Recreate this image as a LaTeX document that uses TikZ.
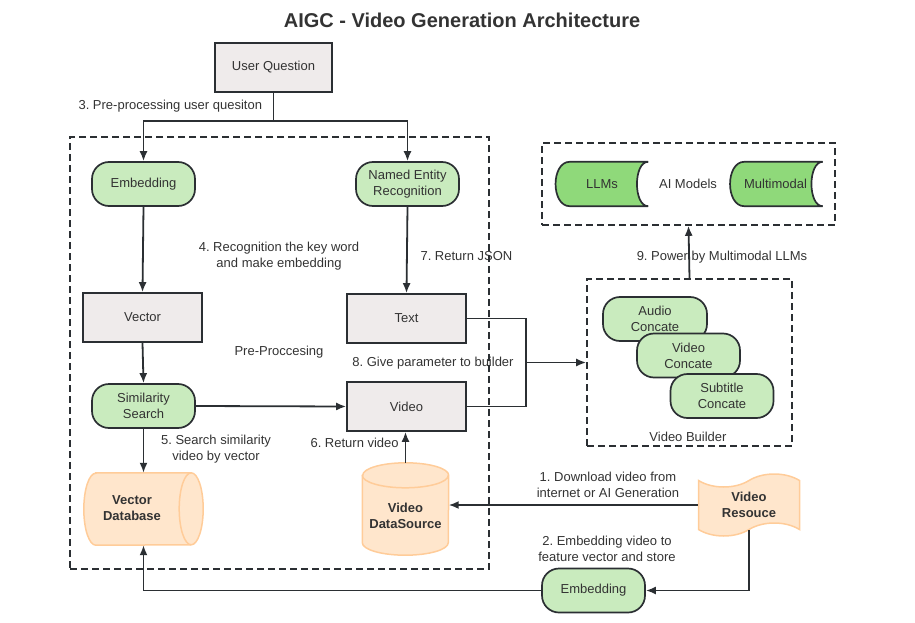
\documentclass[tikz,border=0pt]{standalone}
\usepackage{fontspec}
\setmainfont{Liberation Sans}
\usetikzlibrary{shapes.symbols, calc, arrows.meta}

\definecolor{boxgray}{HTML}{EFEBEB}
\definecolor{procgreen}{HTML}{C9EBBE}
\definecolor{modelgreen}{HTML}{8FD97A}
\definecolor{dbfill}{HTML}{FFE6CC}
\definecolor{dbline}{HTML}{FFCC99}
\definecolor{inkline}{HTML}{2B2F33}
\definecolor{inktext}{HTML}{333333}

\begin{document}
\frenchspacing
\begin{tikzpicture}[x=1pt, y=-1pt]
	\tikzstyle{every node}=[font=\fontsize{13}{16}\selectfont, text=inktext]
	\tikzstyle{block}=[rectangle, draw=inkline, line width=1.7pt, fill=boxgray,
		minimum width=119pt, minimum height=49pt]
	\tikzstyle{proc}=[rectangle, rounded corners=17pt, draw=inkline, line width=1.7pt,
		fill=procgreen, minimum width=103pt, minimum height=44pt, align=center]
	\tikzstyle{store}=[draw=dbline, line width=1.5pt, fill=dbfill]
	\tikzstyle{storetext}=[font=\fontsize{13}{16}\selectfont\bfseries, align=center]
	\tikzstyle{group}=[rectangle, draw=inkline, line width=1.6pt, dash pattern=on 7pt off 4pt]
	\tikzstyle{flow}=[-{Latex[length=10pt, width=8pt]}, line width=1.8pt, draw=inkline]
	\tikzstyle{wire}=[line width=1.8pt, draw=inkline]
	\tikzstyle{model}=[draw=inkline, line width=1.7pt, fill=modelgreen]

	\useasboundingbox (0,0) rectangle (915,623);

	\node[font=\fontsize{20}{24}\selectfont\bfseries] (title) at (462,20)
		{AIGC - Video Generation Architecture};

	% labels under the dashed lines
	\node[anchor=west] (lbl3) at (75,106) {3. Pre-processing user quesiton};
	\node[align=center] (lbl4) at (279,256) {4. Recognition the key word\\and make embedding};
	\node[anchor=west] (lbl7) at (417,256) {7. Return JSON};
	\node (lblpre) at (279,352) {Pre-Proccesing};
	\node (lbl8) at (433,363) {8. Give parameter to builder};
	\node[align=center] (lbl5) at (216,449) {5. Search similarity\\video by vector};
	\node[anchor=west] (lbl6) at (307,443) {6. Return video};
	\node[align=center] (lbl1) at (608,485) {1. Download video from\\internet or AI Generation};
	\node[align=center] (lbl2) at (607,549) {2. Embedding video to\\feature vector and store};
	\node (lbl9) at (722,257) {9. Power by Multimodal LLMs};

	% groups
	\node[group, minimum width=419pt, minimum height=432pt] (prep) at (279.5,353) {};
	\node[group, minimum width=293pt, minimum height=82pt] (models) at (688.5,184) {};
	\node[group, minimum width=205pt, minimum height=167pt] (builder) at (689.5,362.5) {};
	\node (lblmodels) at (688,184) {AI Models};
	\node (lblbuilder) at (688,437) {Video Builder};

	% question and pre-processing
	\node[block, minimum width=117pt] (question) at (273.5,67.5) {User Question};
	\node[proc] (embed) at (143.5,184) {Embedding};
	\node[proc] (ner) at (407.5,184) {Named Entity\\Recognition};
	\node[block] (vector) at (142.5,317.5) {Vector};
	\node[block] (text) at (406.5,318.5) {Text};
	\node[proc] (search) at (143.5,406) {Similarity\\Search};
	\node[block] (video) at (406.5,406.5) {Video};

	% databases
	\node[minimum width=119pt, minimum height=72pt, inner sep=0pt] (vdb) at (143.5,509) {};
	\filldraw[store] ([xshift=12pt]vdb.north west) -- ([xshift=-12pt]vdb.north east)
		arc[start angle=90, end angle=-90, x radius=12pt, y radius=36pt]
		-- ([xshift=12pt]vdb.south west)
		arc[start angle=270, end angle=90, x radius=12pt, y radius=36pt] -- cycle;
	\draw[store, fill=none] ([xshift=-12pt]vdb.north east)
		arc[start angle=90, end angle=270, x radius=12pt, y radius=36pt];
	\node[storetext] (vdbtext) at (132,508) {Vector\\Database};

	\node[minimum width=86pt, minimum height=92pt, inner sep=0pt] (vds) at (405.5,509) {};
	\filldraw[store] ([yshift=-12.5pt]vds.north west) -- ([yshift=12.5pt]vds.south west)
		arc[start angle=180, end angle=360, x radius=43pt, y radius=12.5pt]
		-- ([yshift=-12.5pt]vds.north east)
		arc[start angle=0, end angle=180, x radius=43pt, y radius=12.5pt] -- cycle;
	\draw[store, fill=none] ([yshift=-12.5pt]vds.north west)
		arc[start angle=180, end angle=360, x radius=43pt, y radius=12.5pt];
	\node[storetext] (vdstext) at (405.5,516) {Video\\DataSource};

	% sources
	\node[tape, draw=dbline, line width=1.5pt, fill=dbfill, minimum width=101pt,
		minimum height=62pt, tape bend top=in and out, tape bend bottom=in and out,
		tape bend height=13pt, font=\fontsize{13}{16}\selectfont\bfseries,
		align=center] (vres) at (749,505) {Video\\Resouce};
	\node[proc] (embed2) at (593.5,590.5) {Embedding};

	% builder parts
	\node[proc, minimum width=104pt] (audio) at (655,319) {Audio\\Concate};
	\node[proc] (vconcat) at (688.5,355.5) {Video\\Concate};
	\node[proc] (subtitle) at (722,396) {Subtitle\\Concate};

	% models
	\node[minimum width=92pt, minimum height=44pt, inner sep=0pt] (llm) at (602,184) {};
	\node[minimum width=92pt, minimum height=44pt, inner sep=0pt] (multi) at (776.5,184) {};
	\filldraw[model] ([xshift=14pt]llm.north west)
		.. controls ([xshift=-5pt]llm.north west) and ([xshift=-5pt]llm.south west)
		.. ([xshift=14pt]llm.south west) -- (llm.south east)
		.. controls ([xshift=-15pt]llm.south east) and ([xshift=-15pt]llm.north east)
		.. (llm.north east) -- cycle;
	\filldraw[model] ([xshift=14pt]multi.north west)
		.. controls ([xshift=-5pt]multi.north west) and ([xshift=-5pt]multi.south west)
		.. ([xshift=14pt]multi.south west) -- (multi.south east)
		.. controls ([xshift=-15pt]multi.south east) and ([xshift=-15pt]multi.north east)
		.. (multi.north east) -- cycle;
	\node (llmtext) at (llm) {LLMs};
	\node (multitext) at ([xshift=-1pt]multi.center) {Multimodal};

	% connectors
	\coordinate (split) at (273.5,121);
	\coordinate (join) at (526,362.5);
	\draw[wire] (question.south) -- (split);
	\draw[flow] (split) -| (embed.north);
	\draw[flow] (split) -| (ner.north);
	\draw[flow] (embed.south) -- (vector.north);
	\draw[flow] (ner.south) -- (text.north);
	\draw[flow] (vector.south) -- (search.north);
	\draw[flow] (search.east) -- (video.west);
	\draw[flow] (search.south) -- (search.south |- vdb.north);
	\draw[flow] (vds.north) -- (vds.north |- video.south);
	\draw[wire] (text.east) -| (join);
	\draw[wire] (video.east) -| (join);
	\draw[flow] (join) -- (builder.west);
	\draw[flow] (builder.north) -- (models.south);
	\draw[flow] (vres.west) -- (vres.west -| vds.east);
	\draw[flow] (vres.south) |- (embed2.east);
	\draw[flow] (embed2.west) -| (vdb.south -| search.south);
\end{tikzpicture}
\end{document}
